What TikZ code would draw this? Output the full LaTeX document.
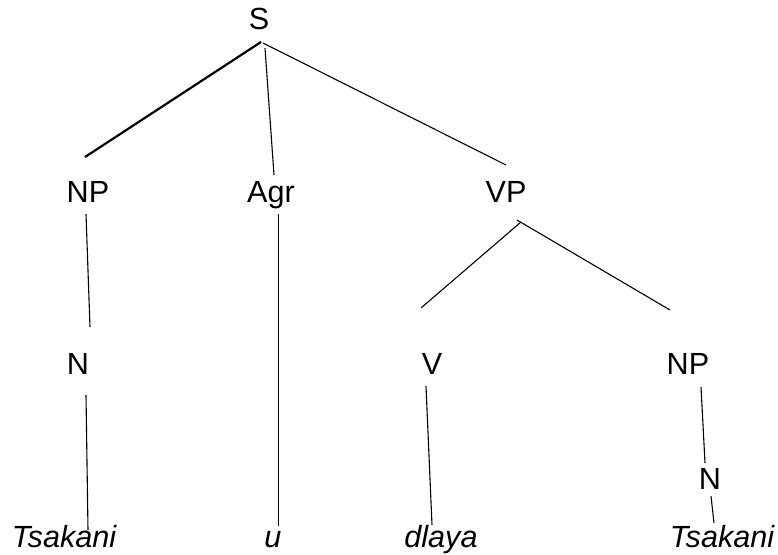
\documentclass[tikz,border=0pt]{standalone}
\usepackage{fontspec}
\setmainfont{Liberation Sans}
\usetikzlibrary{positioning}

\begin{document}
\begin{tikzpicture}[x=0.5pt, y=-0.5pt,
    every node/.style={font=\fontsize{15.3}{18}\selectfont, inner sep=0pt, anchor=base},
    leaf/.style={font=\fontsize{15.3}{18}\selectfont\itshape},
    branch/.style={line width=0.55pt}]
  \useasboundingbox (0,0) rectangle (778,554);
  % categories
  \node (S)   at (259,29)  {S};
  \node (NP)  at (88,202)  {NP};
  \node (Agr) at (271,202) {Agr};
  \node (VP)  at (506,202) {VP};
  \node (N)   at (78,374)  {N};
  \node (V)   at (432,374) {V};
  \node (NP2) at (688,374) {NP};
  \node (N2)  at (710,489) {N};
  % words
  \node[leaf] (w1) at (64,547)  {Tsakani};
  \node[leaf] (w2) at (273,547) {u};
  \node[leaf] (w3) at (441,547) {dlaya};
  \node[leaf] (w4) at (722,547) {Tsakani};
  % branch ends
  \coordinate (S-l) at (261,42);  \coordinate (S-m) at (265,48);
  \coordinate (S-r) at (263,43);
  \coordinate (NP-t) at (85,157);  \coordinate (NP-b) at (86,214);
  \coordinate (Agr-t) at (274,175); \coordinate (Agr-b) at (278.5,214);
  \coordinate (VP-t) at (506,165); \coordinate (VP-l) at (521,222);
  \coordinate (VP-r) at (517,220);
  \coordinate (N-t) at (90,327);   \coordinate (N-b) at (86,395);
  \coordinate (V-t) at (421,308);  \coordinate (V-b) at (426,386);
  \coordinate (NP2-t) at (670,310); \coordinate (NP2-b) at (701,387);
  \coordinate (N2-t) at (705,463); \coordinate (N2-b) at (711,496);
  \coordinate (w1-t) at (88,530);  \coordinate (w2-t) at (278.5,526);
  \coordinate (w3-t) at (432,525); \coordinate (w4-t) at (714,523);
  % branches
  \draw[line width=1.1pt] (S-l) -- (NP-t);
  \draw[branch] (S-m) -- (Agr-t);
  \draw[branch] (S-r) -- (VP-t);
  \draw[branch] (NP-b) -- (N-t);
  \draw[branch] (N-b) -- (w1-t);
  \draw[branch] (Agr-b) -- (w2-t);
  \draw[branch] (VP-l) -- (V-t);
  \draw[branch] (VP-r) -- (NP2-t);
  \draw[branch] (V-b) -- (w3-t);
  \draw[branch] (NP2-b) -- (N2-t);
  \draw[branch] (N2-b) -- (w4-t);
\end{tikzpicture}
\end{document}
